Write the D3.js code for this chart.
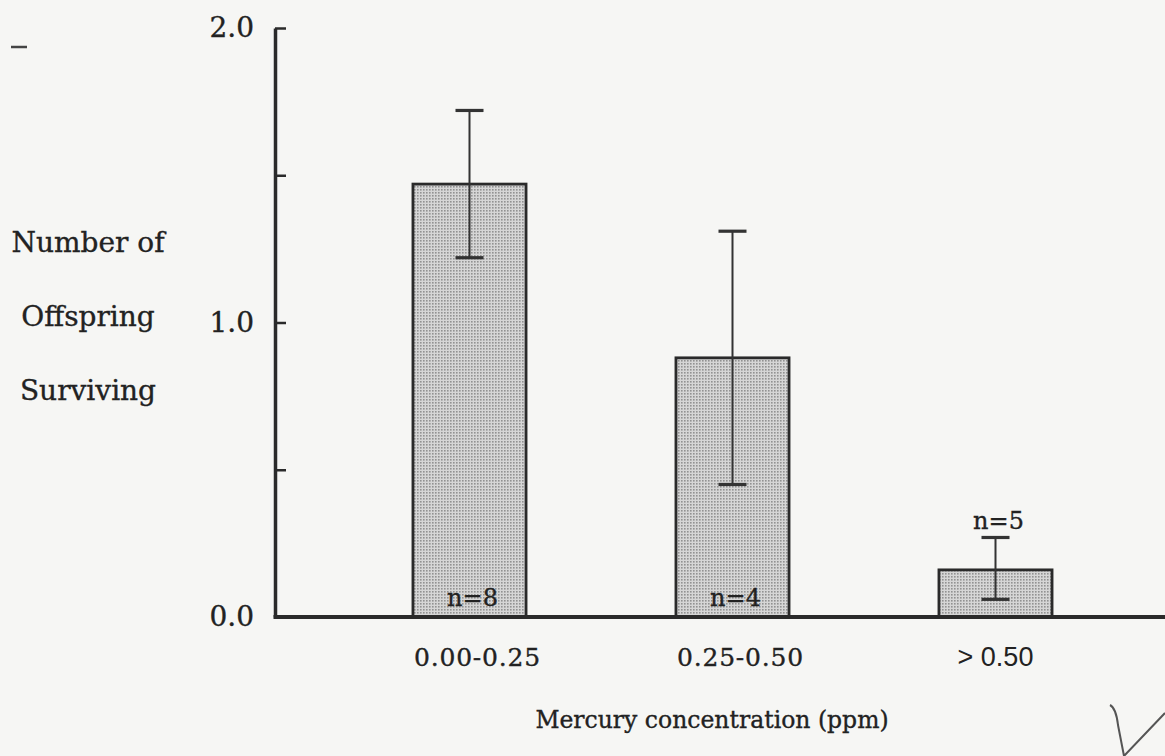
<!DOCTYPE html>
<html>
<head>
<meta charset="utf-8">
<script src="https://cdn.jsdelivr.net/npm/d3@7"></script>
<style>
  body { margin: 0; background: #f6f6f4; }
  svg { display: block; }
  text { font-family: "DejaVu Serif", "Liberation Serif", serif; fill: #222; stroke: #222; stroke-width: 0.35px; }
</style>
</head>
<body>
<div id="chart"></div>
<script>
// data
var categories = ["0.00-0.25", "0.25-0.50", "> 0.50"];
var means = [1.47, 0.88, 0.16];
var errHigh = [1.72, 1.31, 0.27];
var errLow = [1.22, 0.45, 0.06];
var sampleSizes = ["n=8", "n=4", "n=5"];
var yTicks = [0, 0.5, 1, 1.5, 2];
var yTitle = ["Number of", "Offspring", "Surviving"];
var xTitle = "Mercury concentration (ppm)";

var svgWidth = 1165;
var svgHeight = 756;

var svg = d3.select("#chart")
  .append("svg")
  .attr("width", svgWidth)
  .attr("height", svgHeight);

// stippled grey fill like the printed bars
var defs = svg.append("defs");
var pat = defs.append("pattern")
  .attr("id", "stipple")
  .attr("width", 3)
  .attr("height", 3)
  .attr("patternUnits", "userSpaceOnUse");
pat.append("rect").attr("width", 3).attr("height", 3).attr("fill", "#d6d6d6");
pat.append("rect").attr("x", 0).attr("y", 0).attr("width", 1.6).attr("height", 1.6).attr("fill", "#929292");

var axisX = 275;
var baseY = 617;

var x = d3.scaleBand()
  .domain(categories)
  .range([338, 1127])
  .paddingInner(0.57)
  .paddingOuter(0.285);

var y = d3.scaleLinear()
  .domain([0, 2])
  .range([baseY, 28]);

var rows = categories.map(function (c, i) {
  return { cat: c, mean: means[i], hi: errHigh[i], lo: errLow[i], n: sampleSizes[i] };
});

// bars
svg.selectAll("rect.bar")
  .data(rows)
  .enter()
  .append("rect")
  .attr("class", "bar")
  .attr("x", d => x(d.cat))
  .attr("y", d => y(d.mean))
  .attr("width", x.bandwidth())
  .attr("height", d => y(0) - y(d.mean))
  .attr("fill", "url(#stipple)")
  .attr("stroke", "#2a2a2a")
  .attr("stroke-width", 2.8);

// error bars
var eb = svg.selectAll("g.err")
  .data(rows)
  .enter()
  .append("g")
  .attr("class", "err")
  .attr("transform", d => `translate(${x(d.cat) + x.bandwidth() / 2}, 0)`);

eb.append("line")
  .attr("y1", d => y(d.hi))
  .attr("y2", d => y(d.lo))
  .attr("stroke", "#333")
  .attr("stroke-width", 2);

eb.selectAll("line.cap")
  .data(d => [d.hi, d.lo])
  .enter()
  .append("line")
  .attr("class", "cap")
  .attr("x1", -14)
  .attr("x2", 14)
  .attr("y1", v => y(v))
  .attr("y2", v => y(v))
  .attr("stroke", "#333")
  .attr("stroke-width", 3.2);

// sample size labels: inside bar bottom if room, else above error bar
svg.selectAll("text.n")
  .data(rows)
  .enter()
  .append("text")
  .attr("class", "n")
  .attr("x", d => x(d.cat) + x.bandwidth() / 2 + 3)
  .attr("y", d => (y(0) - y(d.mean) > 60) ? baseY - 11 : y(d.hi) - 8)
  .attr("text-anchor", "middle")
  .style("font-size", "24px")
  .text(d => d.n);

// y axis
var leftAxis = d3.axisLeft(y)
  .tickValues(yTicks)
  .tickSizeInner(-11)
  .tickSizeOuter(0)
  .tickPadding(21)
  .tickFormat(v => Number.isInteger(v) ? d3.format(".1f")(v) : "");

var yAxisG = svg.append("g")
  .attr("transform", `translate(${axisX}, 0)`)
  .call(leftAxis);

yAxisG.select(".domain").attr("stroke", "#2a2a2a").attr("stroke-width", 3.5);
yAxisG.selectAll(".tick line").attr("stroke", "#2a2a2a").attr("stroke-width", 2.5);
yAxisG.selectAll(".tick text")
  .style("font-family", "'DejaVu Serif', serif")
  .style("font-size", "28px")
  .attr("fill", "#222");

// baseline
svg.append("line")
  .attr("x1", axisX - 1.5)
  .attr("x2", svgWidth)
  .attr("y1", baseY)
  .attr("y2", baseY)
  .attr("stroke", "#2a2a2a")
  .attr("stroke-width", 3.8);

// category labels (the last one is set in a sans face in the original)
svg.selectAll("text.cat")
  .data(categories)
  .enter()
  .append("text")
  .attr("class", "cat")
  .attr("x", (d, i) => x(d) + x.bandwidth() / 2 + (i < 2 ? 8 : 0))
  .attr("y", 666)
  .attr("text-anchor", "middle")
  .style("letter-spacing", (d, i) => i < 2 ? "0.8px" : "0px")
  .style("font-family", (d, i) => i < 2 ? "'DejaVu Serif', serif" : "'Liberation Sans', Arial, sans-serif")
  .style("font-size", (d, i) => i < 2 ? "25px" : "27px")
  .style("stroke-width", (d, i) => i < 2 ? "0.35px" : "0px")
  .text(d => d);

// y title (three lines, to the left of the axis)
svg.selectAll("text.ytitle")
  .data(yTitle)
  .enter()
  .append("text")
  .attr("class", "ytitle")
  .attr("x", 88)
  .attr("y", (d, i) => 252 + i * 74)
  .attr("text-anchor", "middle")
  .style("font-size", "28px")
  .text(d => d);

// x title
svg.append("text")
  .attr("x", 712)
  .attr("y", 728)
  .attr("text-anchor", "middle")
  .style("font-size", "23.5px")
  .text(xTitle);

// scan marks on the page
svg.append("line")
  .attr("x1", 11).attr("x2", 27).attr("y1", 47).attr("y2", 47)
  .attr("stroke", "#444").attr("stroke-width", 2.5);
svg.append("path")
  .attr("d", "M1110,705 Q1116,708 1118,725 L1124,756 M1124,756 L1165,713")
  .attr("fill", "none")
  .attr("stroke", "#555")
  .attr("stroke-width", 2);
</script>
</body>
</html>
